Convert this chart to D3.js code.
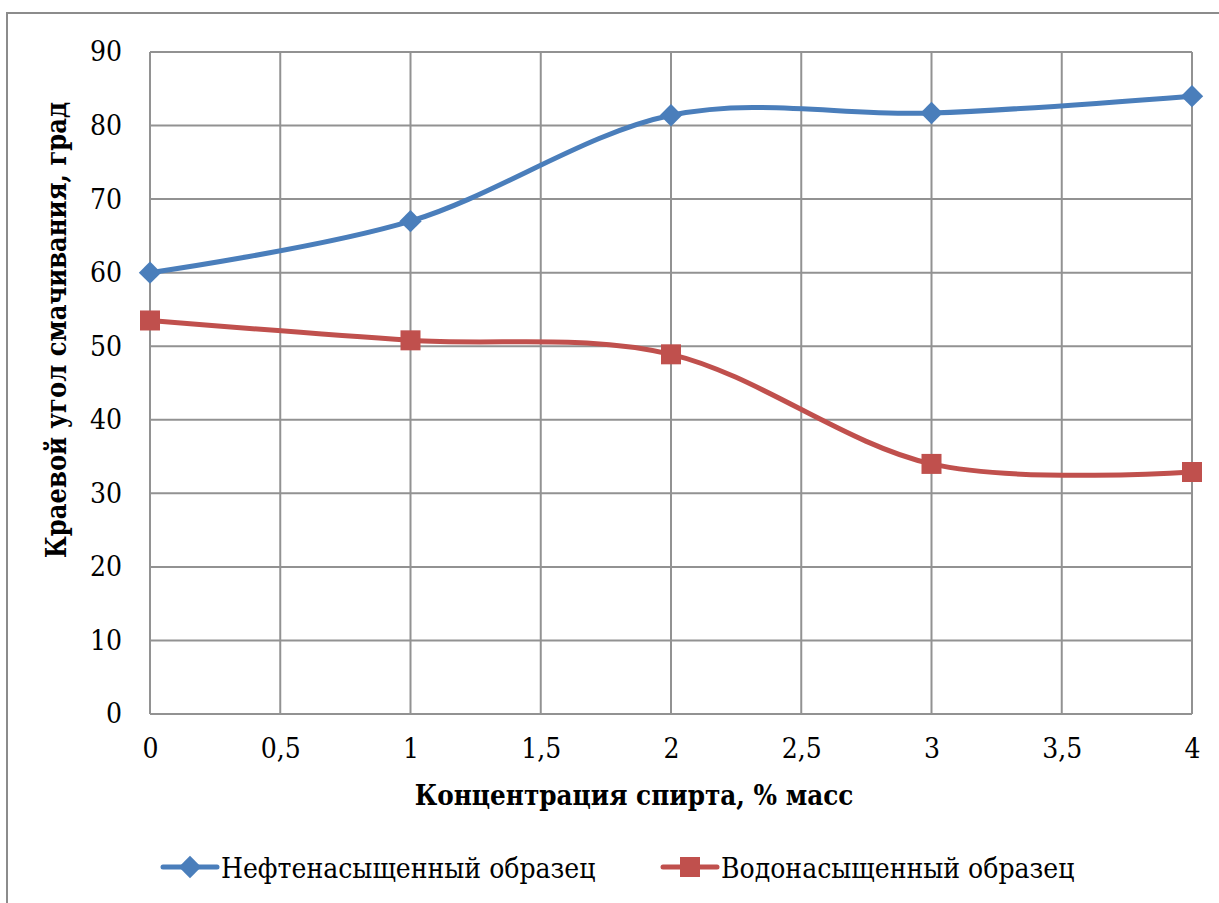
<!DOCTYPE html>
<html>
<head>
<meta charset="utf-8">
<script src="https://cdn.jsdelivr.net/npm/d3@7"></script>
<style>
  body { margin: 0; background: #fff; }
</style>
</head>
<body>
<div id="chart"></div>
<script>
// data
var concentrations = [0, 1, 2, 3, 4];
var oilSaturated = [60, 67, 81.4, 81.7, 84];
var waterSaturated = [53.5, 50.8, 48.9, 34, 32.9];
var xTicks = [0, 0.5, 1, 1.5, 2, 2.5, 3, 3.5, 4];
var yTicks = [0, 10, 20, 30, 40, 50, 60, 70, 80, 90];
var seriesNames = ["Нефтенасыщенный образец", "Водонасыщенный образец"];

var FONT = "DejaVu Serif Condensed, DejaVu Serif, serif";

var W = 1219, H = 903;
var margin = { top: 52, right: 27, bottom: 189, left: 150 },
  width = W - margin.left - margin.right,
  height = H - margin.top - margin.bottom;

var svg = d3.select("#chart")
  .append("svg")
  .attr("width", W)
  .attr("height", H)
  .attr("font-family", FONT);

// outer chart frame
svg.append("rect")
  .attr("x", 7).attr("y", 13)
  .attr("width", W).attr("height", H)
  .attr("fill", "none")
  .attr("stroke", "#8c8c8c")
  .attr("stroke-width", 2);

var g = svg.append("g")
  .attr("transform", "translate(" + margin.left + "," + margin.top + ")");

var x = d3.scaleLinear().domain([0, 4]).range([0, width]);
var y = d3.scaleLinear().domain([0, 90]).range([height, 0]);

// gridlines
g.append("g")
  .selectAll("line.h")
  .data(yTicks)
  .enter().append("line")
  .attr("x1", 0).attr("x2", width)
  .attr("y1", function (d) { return y(d); })
  .attr("y2", function (d) { return y(d); })
  .attr("stroke", "#929292").attr("stroke-width", 2);

g.append("g")
  .selectAll("line.v")
  .data(xTicks)
  .enter().append("line")
  .attr("x1", function (d) { return x(d); })
  .attr("x2", function (d) { return x(d); })
  .attr("y1", 0).attr("y2", height)
  .attr("stroke", "#929292").attr("stroke-width", 2);

// axes (labels only, lines drawn by the grid)
var fmt = function (d) { return String(d).replace(".", ","); };

var yAxis = g.append("g")
  .call(d3.axisLeft(y).tickValues(yTicks).tickSize(0).tickPadding(28).tickFormat(fmt));
yAxis.select(".domain").remove();
yAxis.attr("font-family", FONT).attr("font-size", 28);
yAxis.selectAll("text").attr("fill", "#000");

var xAxis = g.append("g")
  .attr("transform", "translate(0," + height + ")")
  .call(d3.axisBottom(x).tickValues(xTicks).tickSize(0).tickPadding(24).tickFormat(fmt));
xAxis.select(".domain").remove();
xAxis.attr("font-family", FONT).attr("font-size", 28);
xAxis.selectAll("text").attr("fill", "#000");

// axis titles
svg.append("text")
  .attr("x", 634)
  .attr("y", 805)
  .attr("text-anchor", "middle")
  .attr("font-family", FONT)
  .attr("font-weight", "bold")
  .attr("font-size", 27.5)
  .text("Концентрация спирта, % масс");

svg.append("text")
  .attr("transform", "translate(66,330)rotate(-90)")
  .attr("text-anchor", "middle")
  .attr("font-family", FONT)
  .attr("font-weight", "bold")
  .attr("font-size", 27)
  .text("Краевой угол смачивания, град");

// lines
var line = d3.line()
  .x(function (d, i) { return x(concentrations[i]); })
  .y(function (d) { return y(d); })
  .curve(d3.curveCatmullRom.alpha(0));

var colors = ["#4a7ebb", "#c0504d"];
var series = [oilSaturated, waterSaturated];

series.forEach(function (s, k) {
  g.append("path")
    .datum(s)
    .attr("d", line)
    .attr("fill", "none")
    .attr("stroke", colors[k])
    .attr("stroke-width", 5)
    .attr("stroke-linecap", "round");
});

var diamond = d3.symbol().type(d3.symbolSquare).size(250);
g.selectAll("path.blue")
  .data(oilSaturated)
  .enter().append("path")
  .attr("d", diamond)
  .attr("transform", function (d, i) { return "translate(" + x(concentrations[i]) + "," + y(d) + ")rotate(45)"; })
  .attr("fill", colors[0]);

g.selectAll("rect.red")
  .data(waterSaturated)
  .enter().append("rect")
  .attr("x", function (d, i) { return x(concentrations[i]) - 10; })
  .attr("y", function (d) { return y(d) - 10; })
  .attr("width", 20).attr("height", 20)
  .attr("fill", colors[1]);

// legend
var legend = [
  { name: seriesNames[0], color: colors[0], x: 163 },
  { name: seriesNames[1], color: colors[1], x: 663 }
];
var ly = 867;
legend.forEach(function (l, k) {
  svg.append("line")
    .attr("x1", l.x).attr("x2", l.x + 54)
    .attr("y1", ly).attr("y2", ly)
    .attr("stroke", l.color).attr("stroke-width", 5)
    .attr("stroke-linecap", "round");
  if (k === 0) {
    svg.append("path")
      .attr("d", diamond)
      .attr("transform", "translate(" + (l.x + 27) + "," + ly + ")rotate(45)")
      .attr("fill", l.color);
  } else {
    svg.append("rect")
      .attr("x", l.x + 27 - 10).attr("y", ly - 10)
      .attr("width", 20).attr("height", 20)
      .attr("fill", l.color);
  }
  svg.append("text")
    .attr("x", l.x + 58)
    .attr("y", ly + 11)
    .attr("font-family", FONT)
    .attr("font-size", 28)
    .text(l.name);
});
</script>
</body>
</html>
